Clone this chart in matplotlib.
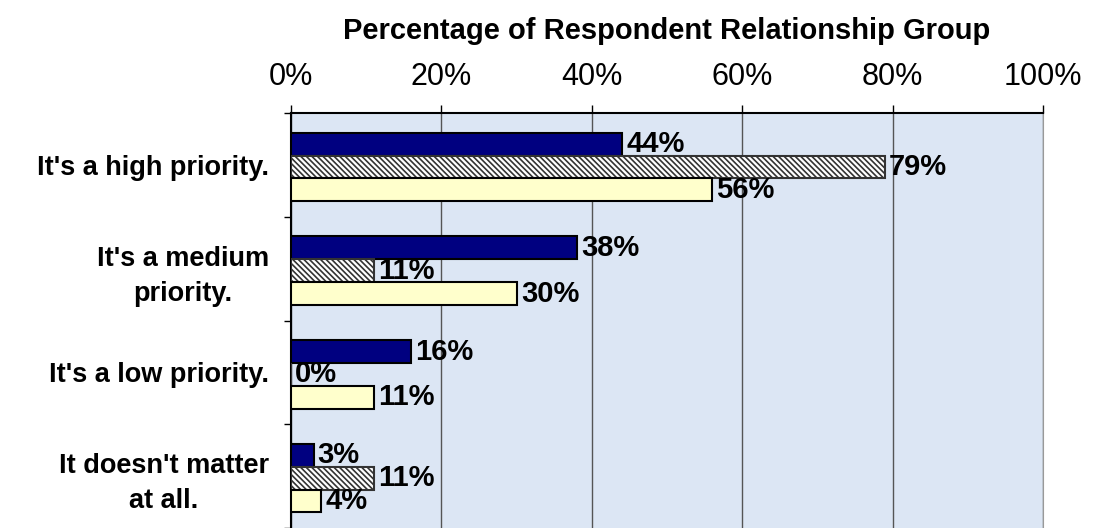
import numpy as np
import matplotlib
matplotlib.use("Agg")
import matplotlib.pyplot as plt

plt.rcParams['font.family'] = ['Liberation Sans', 'DejaVu Sans']
plt.rcParams['hatch.linewidth'] = 1.2

categories = ["It's a high priority.", "It's a medium\npriority.",
              "It's a low priority.", "It doesn't matter\nat all."]
series_a = [44, 38, 16, 3]
series_b = [79, 11, 0, 11]
series_c = [56, 30, 11, 4]
xticks = [0, 20, 40, 60, 80, 100]

fig = plt.figure(figsize=(11, 5.28), dpi=100)
ax = fig.add_axes([291 / 1100, 0.0, 752 / 1100, 1 - 113 / 528])
ax.set_facecolor('#dce6f4')

centers = np.arange(len(categories)) + 0.52
h = 0.22
styles = [
    (series_a, -h, dict(color='#000080', edgecolor='black')),
    (series_b, 0, dict(color='white', edgecolor='#333333', hatch='\\' * 6)),
    (series_c, h, dict(color='#ffffcc', edgecolor='black')),
]
for vals, off, kw in styles:
    bars = ax.barh(centers + off, vals, height=h, linewidth=1.5, zorder=3, **kw)
    for b, v in zip(bars, vals):
        ax.annotate(f"{v}%", (v, b.get_y() + b.get_height() / 2),
                    xytext=(3, 0), textcoords='offset points',
                    ha='left', va='center', fontsize=21, fontweight='bold',
                    zorder=5)

ax.set_xlim(0, 100)
ax.set_ylim(4, 0)
ax.xaxis.tick_top()
ax.set_xticks(xticks)
ax.set_xticklabels([f"{t}%" for t in xticks], fontsize=22)
ax.tick_params(axis='x', length=6, width=1, pad=9, color='black')
ax.grid(axis='x', color='#555555', linewidth=1, zorder=1)

ax.set_yticks(range(5))
ax.set_yticklabels([])
ax.tick_params(axis='y', which='major', length=5, width=1)
ax.set_yticks(np.arange(4) + 0.5, minor=True)
ax.set_yticklabels(categories, minor=True, fontsize=19.5, fontweight='bold')
ax.tick_params(axis='y', which='minor', length=0, pad=16)
for lbl in ax.get_yticklabels(minor=True):
    lbl.set_multialignment('center')
    lbl.set_linespacing(1.45)

for s in ['top', 'left']:
    ax.spines[s].set_color('black')
    ax.spines[s].set_linewidth(1.5)
ax.spines['right'].set_color('#999999')
ax.spines['bottom'].set_visible(False)

fig.text(667 / 1100, 1 - 31 / 528, "Percentage of Respondent Relationship Group",
         ha='center', va='center', fontsize=21, fontweight='bold')

fig.savefig('out.png', dpi=100)
